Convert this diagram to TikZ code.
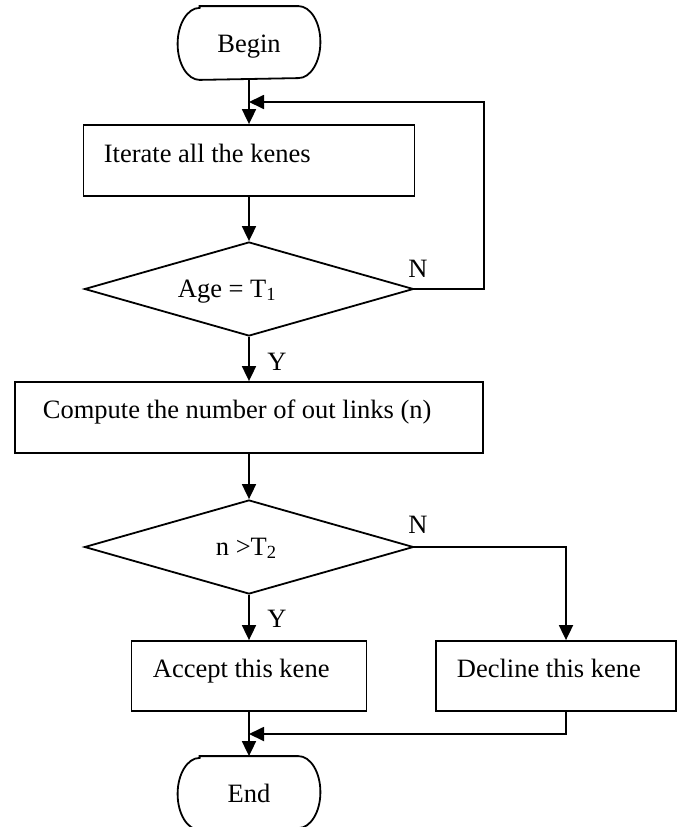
\documentclass[tikz,border=0pt]{standalone}
\usepackage{fontspec}
\setmainfont{Liberation Serif}
\usetikzlibrary{arrows.meta,shapes.geometric}
\begin{document}
\begin{tikzpicture}[x=1pt,y=-1pt,
  line width=1.8pt,
  font=\fontsize{26.5}{30}\selectfont,
  arr/.style={-{Triangle[length=15pt,width=14pt]}},
  box/.style={draw,rectangle,inner sep=0pt},
  term/.style={inner sep=0pt,minimum width=141pt,minimum height=72pt,
    text height=23pt,text depth=5pt},
  decision/.style={draw,diamond,inner sep=0pt,minimum width=329pt,minimum height=94pt},
  txt/.style={anchor=base west,inner sep=0pt},
  lbl/.style={anchor=base,inner sep=0pt}]

\useasboundingbox (0,0) rectangle (684,827);

% terminators: rectangles with elliptic ends
\node[term] (begin) at (249,43) {Begin};
\node[term] (end) at (249,793) {End};
\foreach \t in {begin,end}{
  \draw ([xshift=22pt]\t.north west) -- ([xshift=-22pt]\t.north east)
    arc[start angle=90,end angle=-90,x radius=22pt,y radius=36pt]
    -- ([xshift=22pt]\t.south west)
    arc[start angle=270,end angle=90,x radius=22pt,y radius=36pt] -- cycle;
}

% process boxes
\node[box,minimum width=331pt,minimum height=71pt] (iter) at (249,160.5) {};
\node[box,minimum width=468pt,minimum height=71pt] (comp) at (249,417.5) {};
\node[box,minimum width=235pt,minimum height=70pt] (acc) at (249,676) {};
\node[box,minimum width=240pt,minimum height=70pt] (dec) at (556,676) {};

% decisions
\node[decision] (d1) at (249,289) {};
\node[decision] (d2) at (249,547) {};

% texts
\node[txt] (itertext) at (103,162) {Iterate all the kenes};
\node[txt] (d1text) at (177,297) {Age = T\textsubscript{1}};
\node[lbl] (n1) at (418,277) {N};
\node[lbl] (y1) at (277,370) {Y};
\node[txt] (comptext) at (42,418) {Compute the number of out links (n)};
\node[txt] (d2text) at (215,555) {n >T\textsubscript{2}};
\node[lbl] (n2) at (418,533) {N};
\node[lbl] (y2) at (277,627) {Y};
\node[txt] (acctext) at (152,677) {Accept this kene};
\node[txt] (dectext) at (456,677) {Decline this kene};

% connectors
\coordinate (loopin) at (249,102);
\coordinate (loopr) at (484,102);
\coordinate (mergein) at (249,734);

\draw[arr] (begin.south) -- (iter.north);
\draw[arr] (d1.east) -| (loopr) -- (loopin);
\draw[arr] (iter.south) -- (d1.north);
\draw[arr] (d1.south) -- (comp.north);
\draw[arr] (comp.south) -- (d2.north);
\draw[arr] (d2.south) -- (acc.north);
\draw[arr] (d2.east) -| ([xshift=10pt]dec.north);
\draw[arr] ([xshift=10pt]dec.south) |- (mergein);
\draw[arr] (acc.south) -- (end.north);
\end{tikzpicture}
\end{document}
